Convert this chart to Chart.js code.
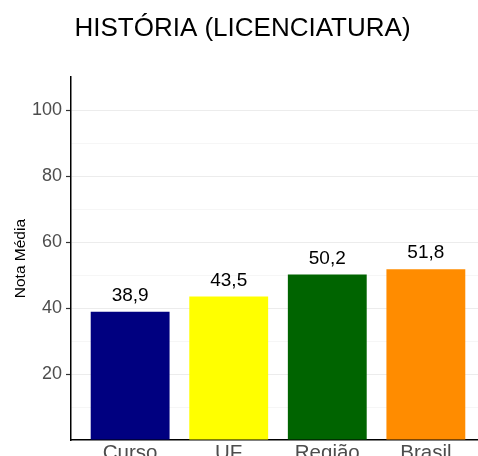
<!DOCTYPE html>
<html lang="pt">
<head>
<meta charset="UTF-8">
<title>História (Licenciatura)</title>
<script src="https://cdn.jsdelivr.net/npm/chart.js"></script>
<style>
  html, body { margin: 0; padding: 0; overflow: hidden; background: #fff; }
  #wrap { width: 490px; height: 470px; }
</style>
</head>
<body>
<div id="wrap"><canvas id="grafico"></canvas></div>
<script>
// dados
const categorias = ['Curso', 'UF', 'Região', 'Brasil'];
const notas = [38.9, 43.5, 50.2, 51.8];
const cores = ['#000080', '#FFFF00', '#006400', '#FF8C00'];
const marcasY = [20, 40, 60, 80, 100];

const fonte = 'Liberation Sans, Arial, Helvetica, sans-serif';

// rótulos de valor acima das barras (vírgula decimal)
const rotulosValor = {
    id: 'rotulosValor',
    afterDatasetsDraw(chart) {
        const ctx = chart.ctx;
        const meta = chart.getDatasetMeta(0);
        ctx.save();
        ctx.font = '19px ' + fonte;
        ctx.fillStyle = '#000';
        ctx.textAlign = 'center';
        ctx.textBaseline = 'middle';
        meta.data.forEach((bar, i) => {
            ctx.fillText(notas[i].toFixed(1).replace('.', ','), bar.x, bar.y - 16);
        });
        ctx.restore();
    }
};

new Chart(document.getElementById('grafico'), {
    type: 'bar',
    data: {
        datasets: [{
            data: notas.map((v, i) => ({ x: i + 1, y: v })),
            backgroundColor: cores,
            borderWidth: 0,
            barPercentage: 0.8,
            categoryPercentage: 1
        }]
    },
    options: {
        responsive: true,
        maintainAspectRatio: false,
        animation: false,
        layout: { padding: { left: 0, right: 5, top: 0, bottom: 0 } },
        plugins: {
            legend: { display: false },
            tooltip: { enabled: false },
            title: {
                display: true,
                text: 'HISTÓRIA (LICENCIATURA)',
                color: '#000',
                font: { family: fonte, size: 26, weight: 'normal' },
                padding: { top: 13, bottom: 33 }
            }
        },
        scales: {
            x: {
                type: 'linear',
                offset: false,
                min: 0.4,
                max: 4.6,
                afterBuildTicks: s => { s.ticks = categorias.map((c, i) => ({ value: i + 1 })); },
                afterFit: s => { s.height = 30; },
                ticks: {
                    callback: v => categorias[v - 1],
                    color: '#4d4d4d',
                    font: { family: fonte, size: 20.5 },
                    padding: 1,
                    maxRotation: 0
                },
                grid: { display: true, offset: false, color: 'transparent', drawTicks: false },
                border: { display: true, color: '#000', width: 1.5 }
            },
            y: {
                min: 0,
                max: 110,
                afterBuildTicks: s => {
                    const t = [];
                    for (let v = 0; v <= 110; v += 10) t.push({ value: v });
                    s.ticks = t;
                },
                afterFit: s => { s.width = 71; },
                ticks: {
                    callback: v => marcasY.includes(v) ? String(v) : '',
                    color: '#4d4d4d',
                    font: { family: fonte, size: 18 },
                    padding: 4
                },
                grid: {
                    color: c => {
                        const v = c.tick.value;
                        if (v === 0 || v === 110) return 'transparent';
                        return marcasY.includes(v) ? '#ececec' : '#f6f6f6';
                    },
                    lineWidth: 1,
                    tickLength: 5,
                    tickColor: c => marcasY.includes(c.tick.value) ? '#333' : 'transparent',
                    tickWidth: 1.2
                },
                border: { display: true, color: '#000', width: 1.5 },
                title: {
                    display: true,
                    text: 'Nota Média',
                    color: '#000',
                    font: { family: fonte, size: 15.5 },
                    padding: { top: 11, bottom: 0 }
                }
            }
        }
    },
    plugins: [rotulosValor]
});
</script>
</body>
</html>
